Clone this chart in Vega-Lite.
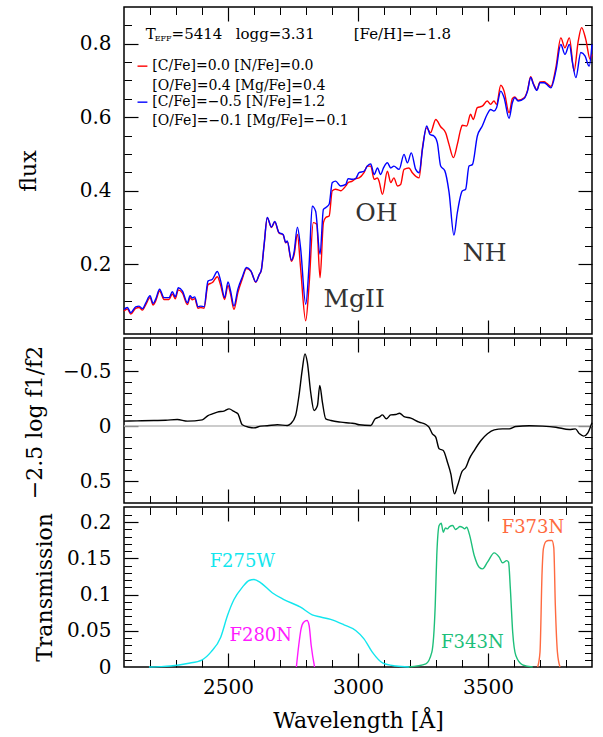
{
"$schema": "https://vega.github.io/schema/vega-lite/v6.json",
"background": "white",
"padding": {"left": 16, "top": 5, "right": 5, "bottom": 5},
"bounds": "flush",
"spacing": 4,
"resolve": {"scale": {"color": "independent"}},
"config": {
  "font": "DejaVu Serif",
  "view": {"stroke": "#000", "strokeWidth": 1.5},
  "axis": {"labelFont": "DejaVu Serif", "titleFont": "DejaVu Serif", "labelFontSize": 20, "titleFontSize": 22, "titleFontWeight": "normal", "labelColor": "#000", "titleColor": "#000", "domain": false, "grid": false, "labelFlush": false, "labelOverlap": false},
  "text": {"font": "DejaVu Serif"}
},
"datasets": {
  "flux": [
{"w":2100,"f":0.073,"m":"A"},{"w":2113,"f":0.078,"m":"A"},{"w":2126,"f":0.064,"m":"A"},{"w":2145,"f":0.080,"m":"A"},{"w":2158,"f":0.082,"m":"A"},{"w":2171,"f":0.075,"m":"A"},{"w":2184,"f":0.090,"m":"A"},{"w":2200,"f":0.109,"m":"A"},{"w":2212,"f":0.089,"m":"A"},{"w":2222,"f":0.100,"m":"A"},{"w":2237,"f":0.127,"m":"A"},{"w":2254,"f":0.104,"m":"A"},{"w":2273,"f":0.104,"m":"A"},{"w":2286,"f":0.119,"m":"A"},{"w":2297,"f":0.106,"m":"A"},{"w":2309,"f":0.130,"m":"A"},{"w":2325,"f":0.121,"m":"A"},{"w":2344,"f":0.090,"m":"A"},{"w":2354,"f":0.109,"m":"A"},{"w":2363,"f":0.103,"m":"A"},{"w":2372,"f":0.106,"m":"A"},{"w":2385,"f":0.080,"m":"A"},{"w":2395,"f":0.082,"m":"A"},{"w":2408,"f":0.080,"m":"A"},{"w":2423,"f":0.144,"m":"A"},{"w":2440,"f":0.150,"m":"A"},{"w":2459,"f":0.166,"m":"A"},{"w":2472,"f":0.142,"m":"A"},{"w":2487,"f":0.104,"m":"A"},{"w":2500,"f":0.142,"m":"A"},{"w":2510,"f":0.118,"m":"A"},{"w":2523,"f":0.077,"m":"A"},{"w":2538,"f":0.123,"m":"A"},{"w":2555,"f":0.160,"m":"A"},{"w":2571,"f":0.188,"m":"A"},{"w":2588,"f":0.181,"m":"A"},{"w":2607,"f":0.151,"m":"A"},{"w":2620,"f":0.171,"m":"A"},{"w":2628,"f":0.183,"m":"A"},{"w":2639,"f":0.253,"m":"A"},{"w":2651,"f":0.326,"m":"A"},{"w":2667,"f":0.300,"m":"A"},{"w":2680,"f":0.315,"m":"A"},{"w":2696,"f":0.285,"m":"A"},{"w":2712,"f":0.280,"m":"A"},{"w":2722,"f":0.258,"m":"A"},{"w":2728,"f":0.261,"m":"A"},{"w":2744,"f":0.208,"m":"A"},{"w":2754,"f":0.225,"m":"A"},{"w":2767,"f":0.281,"m":"A"},{"w":2779,"f":0.191,"m":"A"},{"w":2799,"f":0.046,"m":"A"},{"w":2812,"f":0.145,"m":"A"},{"w":2828,"f":0.313,"m":"A"},{"w":2841,"f":0.309,"m":"A"},{"w":2854,"f":0.163,"m":"A"},{"w":2867,"f":0.313,"m":"A"},{"w":2876,"f":0.327,"m":"A"},{"w":2889,"f":0.331,"m":"A"},{"w":2901,"f":0.400,"m":"A"},{"w":2914,"f":0.404,"m":"A"},{"w":2933,"f":0.400,"m":"A"},{"w":2953,"f":0.413,"m":"A"},{"w":2962,"f":0.422,"m":"A"},{"w":2978,"f":0.426,"m":"A"},{"w":2991,"f":0.433,"m":"A"},{"w":3004,"f":0.435,"m":"A"},{"w":3023,"f":0.449,"m":"A"},{"w":3036,"f":0.467,"m":"A"},{"w":3049,"f":0.467,"m":"A"},{"w":3062,"f":0.431,"m":"A"},{"w":3075,"f":0.435,"m":"A"},{"w":3081,"f":0.426,"m":"A"},{"w":3094,"f":0.390,"m":"A"},{"w":3113,"f":0.453,"m":"A"},{"w":3126,"f":0.422,"m":"A"},{"w":3138,"f":0.435,"m":"A"},{"w":3152,"f":0.413,"m":"A"},{"w":3164,"f":0.417,"m":"A"},{"w":3177,"f":0.458,"m":"A"},{"w":3196,"f":0.462,"m":"A"},{"w":3209,"f":0.449,"m":"A"},{"w":3235,"f":0.435,"m":"A"},{"w":3248,"f":0.517,"m":"A"},{"w":3264,"f":0.571,"m":"A"},{"w":3279,"f":0.558,"m":"A"},{"w":3299,"f":0.594,"m":"A"},{"w":3318,"f":0.574,"m":"A"},{"w":3337,"f":0.558,"m":"A"},{"w":3350,"f":0.526,"m":"A"},{"w":3367,"f":0.490,"m":"A"},{"w":3382,"f":0.526,"m":"A"},{"w":3395,"f":0.567,"m":"A"},{"w":3401,"f":0.578,"m":"A"},{"w":3418,"f":0.576,"m":"A"},{"w":3433,"f":0.608,"m":"A"},{"w":3443,"f":0.594,"m":"A"},{"w":3459,"f":0.626,"m":"A"},{"w":3478,"f":0.630,"m":"A"},{"w":3497,"f":0.644,"m":"A"},{"w":3510,"f":0.635,"m":"A"},{"w":3523,"f":0.644,"m":"A"},{"w":3533,"f":0.635,"m":"A"},{"w":3549,"f":0.687,"m":"A"},{"w":3562,"f":0.671,"m":"A"},{"w":3581,"f":0.612,"m":"A"},{"w":3594,"f":0.651,"m":"A"},{"w":3603,"f":0.655,"m":"A"},{"w":3616,"f":0.646,"m":"A"},{"w":3639,"f":0.653,"m":"A"},{"w":3652,"f":0.673,"m":"A"},{"w":3664,"f":0.710,"m":"A"},{"w":3675,"f":0.691,"m":"A"},{"w":3688,"f":0.675,"m":"A"},{"w":3700,"f":0.696,"m":"A"},{"w":3716,"f":0.697,"m":"A"},{"w":3726,"f":0.692,"m":"A"},{"w":3742,"f":0.684,"m":"A"},{"w":3761,"f":0.735,"m":"A"},{"w":3780,"f":0.816,"m":"A"},{"w":3796,"f":0.789,"m":"A"},{"w":3813,"f":0.816,"m":"A"},{"w":3831,"f":0.726,"m":"A"},{"w":3847,"f":0.807,"m":"A"},{"w":3860,"f":0.844,"m":"A"},{"w":3876,"f":0.812,"m":"A"},{"w":3893,"f":0.757,"m":"A"},{"w":3900,"f":0.771,"m":"A"},
{"w":2100,"f":0.077,"m":"B"},{"w":2113,"f":0.082,"m":"B"},{"w":2126,"f":0.068,"m":"B"},{"w":2145,"f":0.084,"m":"B"},{"w":2158,"f":0.086,"m":"B"},{"w":2171,"f":0.079,"m":"B"},{"w":2184,"f":0.095,"m":"B"},{"w":2200,"f":0.114,"m":"B"},{"w":2212,"f":0.093,"m":"B"},{"w":2222,"f":0.105,"m":"B"},{"w":2237,"f":0.132,"m":"B"},{"w":2254,"f":0.109,"m":"B"},{"w":2273,"f":0.109,"m":"B"},{"w":2286,"f":0.125,"m":"B"},{"w":2297,"f":0.111,"m":"B"},{"w":2309,"f":0.136,"m":"B"},{"w":2325,"f":0.127,"m":"B"},{"w":2344,"f":0.095,"m":"B"},{"w":2354,"f":0.114,"m":"B"},{"w":2363,"f":0.108,"m":"B"},{"w":2372,"f":0.111,"m":"B"},{"w":2385,"f":0.084,"m":"B"},{"w":2395,"f":0.086,"m":"B"},{"w":2408,"f":0.084,"m":"B"},{"w":2423,"f":0.154,"m":"B"},{"w":2440,"f":0.159,"m":"B"},{"w":2459,"f":0.180,"m":"B"},{"w":2472,"f":0.154,"m":"B"},{"w":2487,"f":0.109,"m":"B"},{"w":2500,"f":0.152,"m":"B"},{"w":2510,"f":0.127,"m":"B"},{"w":2523,"f":0.086,"m":"B"},{"w":2538,"f":0.132,"m":"B"},{"w":2555,"f":0.165,"m":"B"},{"w":2571,"f":0.191,"m":"B"},{"w":2588,"f":0.182,"m":"B"},{"w":2607,"f":0.152,"m":"B"},{"w":2620,"f":0.172,"m":"B"},{"w":2628,"f":0.184,"m":"B"},{"w":2639,"f":0.254,"m":"B"},{"w":2651,"f":0.327,"m":"B"},{"w":2667,"f":0.301,"m":"B"},{"w":2680,"f":0.316,"m":"B"},{"w":2696,"f":0.286,"m":"B"},{"w":2712,"f":0.281,"m":"B"},{"w":2722,"f":0.259,"m":"B"},{"w":2728,"f":0.263,"m":"B"},{"w":2744,"f":0.211,"m":"B"},{"w":2754,"f":0.232,"m":"B"},{"w":2767,"f":0.301,"m":"B"},{"w":2779,"f":0.245,"m":"B"},{"w":2799,"f":0.091,"m":"B"},{"w":2812,"f":0.200,"m":"B"},{"w":2824,"f":0.358,"m":"B"},{"w":2837,"f":0.344,"m":"B"},{"w":2854,"f":0.227,"m":"B"},{"w":2867,"f":0.349,"m":"B"},{"w":2876,"f":0.354,"m":"B"},{"w":2889,"f":0.363,"m":"B"},{"w":2901,"f":0.422,"m":"B"},{"w":2914,"f":0.426,"m":"B"},{"w":2933,"f":0.413,"m":"B"},{"w":2953,"f":0.417,"m":"B"},{"w":2962,"f":0.433,"m":"B"},{"w":2978,"f":0.431,"m":"B"},{"w":2991,"f":0.433,"m":"B"},{"w":3004,"f":0.449,"m":"B"},{"w":3023,"f":0.453,"m":"B"},{"w":3036,"f":0.467,"m":"B"},{"w":3049,"f":0.473,"m":"B"},{"w":3062,"f":0.444,"m":"B"},{"w":3075,"f":0.462,"m":"B"},{"w":3087,"f":0.444,"m":"B"},{"w":3098,"f":0.462,"m":"B"},{"w":3113,"f":0.476,"m":"B"},{"w":3126,"f":0.462,"m":"B"},{"w":3138,"f":0.467,"m":"B"},{"w":3158,"f":0.458,"m":"B"},{"w":3177,"f":0.499,"m":"B"},{"w":3190,"f":0.476,"m":"B"},{"w":3205,"f":0.503,"m":"B"},{"w":3222,"f":0.458,"m":"B"},{"w":3235,"f":0.449,"m":"B"},{"w":3248,"f":0.513,"m":"B"},{"w":3264,"f":0.576,"m":"B"},{"w":3277,"f":0.553,"m":"B"},{"w":3292,"f":0.549,"m":"B"},{"w":3305,"f":0.531,"m":"B"},{"w":3318,"f":0.467,"m":"B"},{"w":3334,"f":0.454,"m":"B"},{"w":3350,"f":0.397,"m":"B"},{"w":3369,"f":0.279,"m":"B"},{"w":3382,"f":0.340,"m":"B"},{"w":3401,"f":0.399,"m":"B"},{"w":3414,"f":0.404,"m":"B"},{"w":3427,"f":0.467,"m":"B"},{"w":3440,"f":0.471,"m":"B"},{"w":3459,"f":0.549,"m":"B"},{"w":3478,"f":0.576,"m":"B"},{"w":3497,"f":0.608,"m":"B"},{"w":3510,"f":0.621,"m":"B"},{"w":3523,"f":0.617,"m":"B"},{"w":3533,"f":0.626,"m":"B"},{"w":3549,"f":0.671,"m":"B"},{"w":3562,"f":0.653,"m":"B"},{"w":3581,"f":0.597,"m":"B"},{"w":3594,"f":0.640,"m":"B"},{"w":3603,"f":0.653,"m":"B"},{"w":3616,"f":0.644,"m":"B"},{"w":3639,"f":0.651,"m":"B"},{"w":3652,"f":0.671,"m":"B"},{"w":3664,"f":0.708,"m":"B"},{"w":3675,"f":0.689,"m":"B"},{"w":3688,"f":0.673,"m":"B"},{"w":3700,"f":0.694,"m":"B"},{"w":3716,"f":0.694,"m":"B"},{"w":3726,"f":0.689,"m":"B"},{"w":3742,"f":0.680,"m":"B"},{"w":3761,"f":0.726,"m":"B"},{"w":3780,"f":0.798,"m":"B"},{"w":3796,"f":0.771,"m":"B"},{"w":3813,"f":0.798,"m":"B"},{"w":3825,"f":0.748,"m":"B"},{"w":3838,"f":0.708,"m":"B"},{"w":3857,"f":0.776,"m":"B"},{"w":3873,"f":0.767,"m":"B"},{"w":3889,"f":0.739,"m":"B"},{"w":3900,"f":0.798,"m":"B"}
  ],
  "notes": [{"w":3071,"f":0.339,"text":"OH"},{"w":2985,"f":0.105,"text":"MgII"},{"w":3487,"f":0.230,"text":"NH"}],
  "head": [{"w":2183.5,"f":0.826,"text":"T"},{"w":2283,"f":0.826,"text":"=5414"},{"w":2529.6,"f":0.826,"text":"logg=3.31"},{"w":2983.5,"f":0.826,"text":"[Fe/H]=−1.8"}],
  "headsub": [{"w":2218,"f":0.813,"text":"EFF"}],
  "legtext": [{"w":2209,"f":0.739,"text":"[C/Fe]=0.0 [N/Fe]=0.0"},{"w":2209,"f":0.685,"text":"[O/Fe]=0.4 [Mg/Fe]=0.4"},{"w":2209,"f":0.641,"text":"[C/Fe]=−0.5 [N/Fe]=1.2"},{"w":2209,"f":0.590,"text":"[O/Fe]=−0.1 [Mg/Fe]=−0.1"}],
  "legline": [{"w1":2152,"w2":2190,"f":0.739,"m":"A"},{"w1":2152,"w2":2190,"f":0.641,"m":"B"}],
  "zero": [{"v":0}],
  "ratio": [
{"w":2100,"v":-0.044},{"w":2150,"v":-0.047},{"w":2215,"v":-0.050},{"w":2260,"v":-0.052},{"w":2305,"v":-0.059},{"w":2344,"v":-0.044},{"w":2401,"v":-0.056},{"w":2423,"v":-0.095},{"w":2440,"v":-0.11},{"w":2459,"v":-0.126},{"w":2487,"v":-0.138},{"w":2504,"v":-0.156},{"w":2523,"v":-0.132},{"w":2538,"v":-0.111},{"w":2555,"v":-0.011},{"w":2581,"v":0.011},{"w":2600,"v":0.017},{"w":2626,"v":0.001},{"w":2651,"v":-0.002},{"w":2690,"v":-0.011},{"w":2728,"v":-0.005},{"w":2741,"v":-0.020},{"w":2760,"v":-0.095},{"w":2773,"v":-0.277},{"w":2786,"v":-0.52},{"w":2796,"v":-0.656},{"w":2805,"v":-0.58},{"w":2818,"v":-0.307},{"w":2831,"v":-0.141},{"w":2844,"v":-0.186},{"w":2853,"v":-0.368},{"w":2863,"v":-0.217},{"w":2876,"v":-0.065},{"w":2896,"v":-0.05},{"w":2934,"v":-0.035},{"w":2972,"v":-0.026},{"w":2991,"v":-0.020},{"w":3004,"v":-0.011},{"w":3049,"v":-0.005},{"w":3066,"v":-0.066},{"w":3081,"v":-0.08},{"w":3094,"v":-0.101},{"w":3109,"v":-0.066},{"w":3126,"v":-0.101},{"w":3145,"v":-0.104},{"w":3160,"v":-0.116},{"w":3177,"v":-0.086},{"w":3203,"v":-0.071},{"w":3235,"v":-0.035},{"w":3261,"v":-0.014},{"w":3273,"v":0.011},{"w":3286,"v":0.071},{"w":3299,"v":0.101},{"w":3312,"v":0.207},{"w":3328,"v":0.223},{"w":3344,"v":0.329},{"w":3357,"v":0.435},{"w":3371,"v":0.617},{"w":3383,"v":0.541},{"w":3400,"v":0.414},{"w":3415,"v":0.375},{"w":3428,"v":0.299},{"w":3447,"v":0.223},{"w":3473,"v":0.132},{"w":3498,"v":0.071},{"w":3524,"v":0.035},{"w":3556,"v":0.026},{"w":3582,"v":0.026},{"w":3607,"v":0.005},{"w":3659,"v":-0.002},{"w":3710,"v":0.001},{"w":3761,"v":0.011},{"w":3813,"v":0.032},{"w":3836,"v":0.026},{"w":3852,"v":0.071},{"w":3868,"v":0.092},{"w":3884,"v":0.062},{"w":3897,"v":-0.011},{"w":3900,"v":-0.029}
  ],
  "filters": [
{"w":2196,"t":0,"filter":"F275W"},{"w":2240,"t":0.0005,"filter":"F275W"},{"w":2280,"t":0.0014,"filter":"F275W"},{"w":2344,"t":0.0049,"filter":"F275W"},{"w":2401,"t":0.0100,"filter":"F275W"},{"w":2434,"t":0.0205,"filter":"F275W"},{"w":2472,"t":0.0412,"filter":"F275W"},{"w":2498,"t":0.0711,"filter":"F275W"},{"w":2523,"t":0.0932,"filter":"F275W"},{"w":2555,"t":0.110,"filter":"F275W"},{"w":2581,"t":0.1195,"filter":"F275W"},{"w":2600,"t":0.1209,"filter":"F275W"},{"w":2626,"t":0.1163,"filter":"F275W"},{"w":2670,"t":0.1025,"filter":"F275W"},{"w":2715,"t":0.0932,"filter":"F275W"},{"w":2779,"t":0.0826,"filter":"F275W"},{"w":2824,"t":0.0721,"filter":"F275W"},{"w":2856,"t":0.069,"filter":"F275W"},{"w":2895,"t":0.0658,"filter":"F275W"},{"w":2946,"t":0.0583,"filter":"F275W"},{"w":2991,"t":0.0504,"filter":"F275W"},{"w":3023,"t":0.0389,"filter":"F275W"},{"w":3055,"t":0.0205,"filter":"F275W"},{"w":3094,"t":0.0058,"filter":"F275W"},{"w":3145,"t":0.0014,"filter":"F275W"},{"w":3196,"t":0,"filter":"F275W"},
{"w":2763,"t":0,"filter":"F280N"},{"w":2772,"t":0.0297,"filter":"F280N"},{"w":2781,"t":0.0527,"filter":"F280N"},{"w":2791,"t":0.0619,"filter":"F280N"},{"w":2804,"t":0.0642,"filter":"F280N"},{"w":2812,"t":0.0573,"filter":"F280N"},{"w":2820,"t":0.0297,"filter":"F280N"},{"w":2833,"t":0,"filter":"F280N"},
{"w":3196,"t":0,"filter":"F343N"},{"w":3261,"t":0.0044,"filter":"F343N"},{"w":3284,"t":0.0205,"filter":"F343N"},{"w":3297,"t":0.0849,"filter":"F343N"},{"w":3303,"t":0.154,"filter":"F343N"},{"w":3312,"t":0.1954,"filter":"F343N"},{"w":3320,"t":0.1985,"filter":"F343N"},{"w":3328,"t":0.1862,"filter":"F343N"},{"w":3336,"t":0.192,"filter":"F343N"},{"w":3344,"t":0.1908,"filter":"F343N"},{"w":3352,"t":0.194,"filter":"F343N"},{"w":3364,"t":0.1954,"filter":"F343N"},{"w":3375,"t":0.19,"filter":"F343N"},{"w":3383,"t":0.1917,"filter":"F343N"},{"w":3392,"t":0.194,"filter":"F343N"},{"w":3402,"t":0.193,"filter":"F343N"},{"w":3410,"t":0.191,"filter":"F343N"},{"w":3418,"t":0.193,"filter":"F343N"},{"w":3428,"t":0.1839,"filter":"F343N"},{"w":3447,"t":0.154,"filter":"F343N"},{"w":3466,"t":0.1379,"filter":"F343N"},{"w":3479,"t":0.1356,"filter":"F343N"},{"w":3498,"t":0.1448,"filter":"F343N"},{"w":3524,"t":0.1577,"filter":"F343N"},{"w":3543,"t":0.1517,"filter":"F343N"},{"w":3556,"t":0.1439,"filter":"F343N"},{"w":3572,"t":0.147,"filter":"F343N"},{"w":3579,"t":0.1448,"filter":"F343N"},{"w":3586,"t":0.108,"filter":"F343N"},{"w":3595,"t":0.048,"filter":"F343N"},{"w":3607,"t":0.0159,"filter":"F343N"},{"w":3633,"t":0.003,"filter":"F343N"},{"w":3672,"t":0,"filter":"F343N"},
{"w":3691,"t":0,"filter":"F373N"},{"w":3700,"t":0.0205,"filter":"F373N"},{"w":3708,"t":0.131,"filter":"F373N"},{"w":3713,"t":0.163,"filter":"F373N"},{"w":3723,"t":0.1733,"filter":"F373N"},{"w":3733,"t":0.1747,"filter":"F373N"},{"w":3746,"t":0.1747,"filter":"F373N"},{"w":3753,"t":0.165,"filter":"F373N"},{"w":3759,"t":0.0849,"filter":"F373N"},{"w":3767,"t":0.0205,"filter":"F373N"},{"w":3777,"t":0,"filter":"F373N"}
  ],
  "flab": [{"w":2555,"t":0.145,"filter":"F275W"},{"w":2626,"t":0.0425,"filter":"F280N"},{"w":3440,"t":0.0334,"filter":"F343N"},{"w":3673,"t":0.1917,"filter":"F373N"}]
},
"vconcat": [
{
  "width": 468, "height": 327,
  "resolve": {"axis": {"x": "independent", "y": "independent"}},
  "layer": [
    {"data": {"name": "flux"}, "mark": {"type": "line", "strokeWidth": 1.4, "interpolate": "monotone"},
     "encoding": {
       "x": {"field": "w", "type": "quantitative", "scale": {"domain": [2100, 3900], "nice": false, "zero": false}, "axis": null},
       "y": {"field": "f", "type": "quantitative", "scale": {"domain": [0.01, 0.9], "nice": false, "zero": false}, "axis": {"orient": "left", "values": [0.2, 0.4, 0.6, 0.8], "ticks": false, "labelPadding": 13, "format": "~g", "title": "flux", "titleX": -96, "titleY": 163.5, "titleAngle": -90, "titleAlign": "center", "titleBaseline": "middle"}},
       "color": {"field": "m", "type": "nominal", "scale": {"domain": ["A", "B"], "range": ["#ff0000", "#0000ff"]}, "legend": null}
     }},
    {"data": {"name": "flux"}, "mark": {"type": "point", "opacity": 0},
     "encoding": {
       "x": {"field": "w", "type": "quantitative", "scale": {"domain": [2100, 3900], "nice": false, "zero": false}, "axis": {"orient": "bottom", "values": [2500, 3000, 3500], "labels": false, "tickColor": "#000", "tickWidth": 1.2, "tickSize": 14, "offset": -14, "title": null}},
       "y": {"field": "f", "type": "quantitative", "scale": {"domain": [0.01, 0.9], "nice": false, "zero": false}, "axis": {"orient": "left", "values": [0.2, 0.4, 0.6, 0.8], "labels": false, "tickColor": "#000", "tickWidth": 1.2, "tickSize": 14, "offset": -14, "title": null}}
     }},
    {"data": {"name": "flux"}, "mark": {"type": "point", "opacity": 0},
     "encoding": {
       "x": {"field": "w", "type": "quantitative", "scale": {"domain": [2100, 3900], "nice": false, "zero": false}, "axis": {"orient": "top", "values": [2500, 3000, 3500], "labels": false, "tickColor": "#000", "tickWidth": 1.2, "tickSize": 14, "offset": -14, "title": null}},
       "y": {"field": "f", "type": "quantitative", "scale": {"domain": [0.01, 0.9], "nice": false, "zero": false}, "axis": {"orient": "right", "values": [0.2, 0.4, 0.6, 0.8], "labels": false, "tickColor": "#000", "tickWidth": 1.2, "tickSize": 14, "offset": -14, "title": null}}
     }},
    {"data": {"name": "flux"}, "mark": {"type": "point", "opacity": 0},
     "encoding": {
       "x": {"field": "w", "type": "quantitative", "scale": {"domain": [2100, 3900], "nice": false, "zero": false}, "axis": {"orient": "bottom", "values": [2200, 2300, 2400, 2600, 2700, 2800, 2900, 3100, 3200, 3300, 3400, 3600, 3700, 3800], "labels": false, "tickColor": "#000", "tickWidth": 1, "tickSize": 7.5, "offset": -7.5, "title": null}},
       "y": {"field": "f", "type": "quantitative", "scale": {"domain": [0.01, 0.9], "nice": false, "zero": false}, "axis": {"orient": "left", "values": [0.05, 0.1, 0.15, 0.25, 0.3, 0.35, 0.45, 0.5, 0.55, 0.65, 0.7, 0.75, 0.85], "labels": false, "tickColor": "#000", "tickWidth": 1, "tickSize": 7.5, "offset": -7.5, "title": null}}
     }},
    {"data": {"name": "flux"}, "mark": {"type": "point", "opacity": 0},
     "encoding": {
       "x": {"field": "w", "type": "quantitative", "scale": {"domain": [2100, 3900], "nice": false, "zero": false}, "axis": {"orient": "top", "values": [2200, 2300, 2400, 2600, 2700, 2800, 2900, 3100, 3200, 3300, 3400, 3600, 3700, 3800], "labels": false, "tickColor": "#000", "tickWidth": 1, "tickSize": 7.5, "offset": -7.5, "title": null}},
       "y": {"field": "f", "type": "quantitative", "scale": {"domain": [0.01, 0.9], "nice": false, "zero": false}, "axis": {"orient": "right", "values": [0.05, 0.1, 0.15, 0.25, 0.3, 0.35, 0.45, 0.5, 0.55, 0.65, 0.7, 0.75, 0.85], "labels": false, "tickColor": "#000", "tickWidth": 1, "tickSize": 7.5, "offset": -7.5, "title": null}}
     }},
    {"data": {"name": "legline"}, "mark": {"type": "rule", "strokeWidth": 1.4},
     "encoding": {
       "x": {"field": "w1", "type": "quantitative", "scale": {"domain": [2100, 3900], "nice": false, "zero": false}, "axis": null},
       "x2": {"field": "w2"},
       "y": {"field": "f", "type": "quantitative", "scale": {"domain": [0.01, 0.9], "nice": false, "zero": false}, "axis": null},
       "color": {"field": "m", "type": "nominal", "scale": {"domain": ["A", "B"], "range": ["#ff0000", "#0000ff"]}, "legend": null}
     }},
    {"data": {"name": "legtext"}, "mark": {"type": "text", "align": "left", "baseline": "middle", "fontSize": 14, "color": "#000"},
     "encoding": {
       "x": {"field": "w", "type": "quantitative", "scale": {"domain": [2100, 3900], "nice": false, "zero": false}, "axis": null},
       "y": {"field": "f", "type": "quantitative", "scale": {"domain": [0.01, 0.9], "nice": false, "zero": false}, "axis": null},
       "text": {"field": "text"}
     }},
    {"data": {"name": "head"}, "mark": {"type": "text", "align": "left", "baseline": "middle", "fontSize": 15, "color": "#000"},
     "encoding": {
       "x": {"field": "w", "type": "quantitative", "scale": {"domain": [2100, 3900], "nice": false, "zero": false}, "axis": null},
       "y": {"field": "f", "type": "quantitative", "scale": {"domain": [0.01, 0.9], "nice": false, "zero": false}, "axis": null},
       "text": {"field": "text"}
     }},
    {"data": {"name": "headsub"}, "mark": {"type": "text", "align": "left", "baseline": "middle", "fontSize": 8, "color": "#000"},
     "encoding": {
       "x": {"field": "w", "type": "quantitative", "scale": {"domain": [2100, 3900], "nice": false, "zero": false}, "axis": null},
       "y": {"field": "f", "type": "quantitative", "scale": {"domain": [0.01, 0.9], "nice": false, "zero": false}, "axis": null},
       "text": {"field": "text"}
     }},
    {"data": {"name": "notes"}, "mark": {"type": "text", "align": "center", "baseline": "middle", "fontSize": 25, "color": "#333"},
     "encoding": {
       "x": {"field": "w", "type": "quantitative", "scale": {"domain": [2100, 3900], "nice": false, "zero": false}, "axis": null},
       "y": {"field": "f", "type": "quantitative", "scale": {"domain": [0.01, 0.9], "nice": false, "zero": false}, "axis": null},
       "text": {"field": "text"}
     }}
  ]
},
{
  "width": 468, "height": 165,
  "resolve": {"axis": {"x": "independent", "y": "independent"}},
  "layer": [
    {"data": {"name": "zero"}, "mark": {"type": "rule", "color": "#bbbbbb", "strokeWidth": 1.5},
     "encoding": {
       "y": {"field": "v", "type": "quantitative", "scale": {"domain": [-0.8, 0.7], "nice": false, "zero": false, "reverse": true}, "axis": null}
     }},
    {"data": {"name": "ratio"}, "mark": {"type": "line", "color": "#000", "strokeWidth": 1.4, "interpolate": "monotone"},
     "encoding": {
       "x": {"field": "w", "type": "quantitative", "scale": {"domain": [2100, 3900], "nice": false, "zero": false}, "axis": null},
       "y": {"field": "v", "type": "quantitative", "scale": {"domain": [-0.8, 0.7], "nice": false, "zero": false, "reverse": true}, "axis": {"orient": "left", "values": [-0.5, 0, 0.5], "ticks": false, "labelPadding": 13, "format": "~g", "title": "−2.5 log f1/f2", "titleX": -90, "titleY": 84, "titleAngle": -90, "titleAlign": "center", "titleBaseline": "middle"}}
     }},
    {"data": {"name": "ratio"}, "mark": {"type": "point", "opacity": 0},
     "encoding": {
       "x": {"field": "w", "type": "quantitative", "scale": {"domain": [2100, 3900], "nice": false, "zero": false}, "axis": {"orient": "bottom", "values": [2500, 3000, 3500], "labels": false, "tickColor": "#000", "tickWidth": 1.2, "tickSize": 14, "offset": -14, "title": null}},
       "y": {"field": "v", "type": "quantitative", "scale": {"domain": [-0.8, 0.7], "nice": false, "zero": false, "reverse": true}, "axis": {"orient": "left", "values": [-0.5, 0, 0.5], "labels": false, "tickColor": "#000", "tickWidth": 1.2, "tickSize": 14, "offset": -14, "title": null}}
     }},
    {"data": {"name": "ratio"}, "mark": {"type": "point", "opacity": 0},
     "encoding": {
       "x": {"field": "w", "type": "quantitative", "scale": {"domain": [2100, 3900], "nice": false, "zero": false}, "axis": {"orient": "top", "values": [2500, 3000, 3500], "labels": false, "tickColor": "#000", "tickWidth": 1.2, "tickSize": 14, "offset": -14, "title": null}},
       "y": {"field": "v", "type": "quantitative", "scale": {"domain": [-0.8, 0.7], "nice": false, "zero": false, "reverse": true}, "axis": {"orient": "right", "values": [-0.5, 0, 0.5], "labels": false, "tickColor": "#000", "tickWidth": 1.2, "tickSize": 14, "offset": -14, "title": null}}
     }},
    {"data": {"name": "ratio"}, "mark": {"type": "point", "opacity": 0},
     "encoding": {
       "x": {"field": "w", "type": "quantitative", "scale": {"domain": [2100, 3900], "nice": false, "zero": false}, "axis": {"orient": "bottom", "values": [2200, 2300, 2400, 2600, 2700, 2800, 2900, 3100, 3200, 3300, 3400, 3600, 3700, 3800], "labels": false, "tickColor": "#000", "tickWidth": 1, "tickSize": 7.5, "offset": -7.5, "title": null}},
       "y": {"field": "v", "type": "quantitative", "scale": {"domain": [-0.8, 0.7], "nice": false, "zero": false, "reverse": true}, "axis": {"orient": "left", "values": [-0.7, -0.6, -0.4, -0.3, -0.2, -0.1, 0.1, 0.2, 0.3, 0.4, 0.6], "labels": false, "tickColor": "#000", "tickWidth": 1, "tickSize": 7.5, "offset": -7.5, "title": null}}
     }},
    {"data": {"name": "ratio"}, "mark": {"type": "point", "opacity": 0},
     "encoding": {
       "x": {"field": "w", "type": "quantitative", "scale": {"domain": [2100, 3900], "nice": false, "zero": false}, "axis": {"orient": "top", "values": [2200, 2300, 2400, 2600, 2700, 2800, 2900, 3100, 3200, 3300, 3400, 3600, 3700, 3800], "labels": false, "tickColor": "#000", "tickWidth": 1, "tickSize": 7.5, "offset": -7.5, "title": null}},
       "y": {"field": "v", "type": "quantitative", "scale": {"domain": [-0.8, 0.7], "nice": false, "zero": false, "reverse": true}, "axis": {"orient": "right", "values": [-0.7, -0.6, -0.4, -0.3, -0.2, -0.1, 0.1, 0.2, 0.3, 0.4, 0.6], "labels": false, "tickColor": "#000", "tickWidth": 1, "tickSize": 7.5, "offset": -7.5, "title": null}}
     }}
  ]
},
{
  "width": 468, "height": 160,
  "resolve": {"axis": {"x": "independent", "y": "independent"}},
  "layer": [
    {"data": {"name": "filters"}, "mark": {"type": "line", "strokeWidth": 1.4, "interpolate": "monotone"},
     "encoding": {
       "x": {"field": "w", "type": "quantitative", "scale": {"domain": [2100, 3900], "nice": false, "zero": false}, "axis": {"orient": "bottom", "values": [2500, 3000, 3500], "ticks": false, "labelPadding": 10, "format": "d", "title": "Wavelength [Å]", "titleX": 234, "titleY": 53.5, "titleAlign": "center", "titleBaseline": "middle"}},
       "y": {"field": "t", "type": "quantitative", "scale": {"domain": [0, 0.221], "nice": false, "zero": false}, "axis": {"orient": "left", "values": [0, 0.05, 0.1, 0.15, 0.2], "ticks": false, "labelPadding": 13, "format": "~g", "title": "Transmission", "titleX": -80, "titleY": 80, "titleAngle": -90, "titleAlign": "center", "titleBaseline": "middle"}},
       "color": {"field": "filter", "type": "nominal", "scale": {"domain": ["F275W", "F280N", "F343N", "F373N"], "range": ["#12e6ee", "#ff1aff", "#1dbf7a", "#ff6a40"]}, "legend": null}
     }},
    {"data": {"name": "filters"}, "mark": {"type": "point", "opacity": 0},
     "encoding": {
       "x": {"field": "w", "type": "quantitative", "scale": {"domain": [2100, 3900], "nice": false, "zero": false}, "axis": {"orient": "bottom", "values": [2500, 3000, 3500], "labels": false, "tickColor": "#000", "tickWidth": 1.2, "tickSize": 14, "offset": -14, "title": null}},
       "y": {"field": "t", "type": "quantitative", "scale": {"domain": [0, 0.221], "nice": false, "zero": false}, "axis": {"orient": "left", "values": [0.05, 0.1, 0.15, 0.2], "labels": false, "tickColor": "#000", "tickWidth": 1.2, "tickSize": 14, "offset": -14, "title": null}}
     }},
    {"data": {"name": "filters"}, "mark": {"type": "point", "opacity": 0},
     "encoding": {
       "x": {"field": "w", "type": "quantitative", "scale": {"domain": [2100, 3900], "nice": false, "zero": false}, "axis": {"orient": "top", "values": [2500, 3000, 3500], "labels": false, "tickColor": "#000", "tickWidth": 1.2, "tickSize": 14, "offset": -14, "title": null}},
       "y": {"field": "t", "type": "quantitative", "scale": {"domain": [0, 0.221], "nice": false, "zero": false}, "axis": {"orient": "right", "values": [0.05, 0.1, 0.15, 0.2], "labels": false, "tickColor": "#000", "tickWidth": 1.2, "tickSize": 14, "offset": -14, "title": null}}
     }},
    {"data": {"name": "filters"}, "mark": {"type": "point", "opacity": 0},
     "encoding": {
       "x": {"field": "w", "type": "quantitative", "scale": {"domain": [2100, 3900], "nice": false, "zero": false}, "axis": {"orient": "bottom", "values": [2200, 2300, 2400, 2600, 2700, 2800, 2900, 3100, 3200, 3300, 3400, 3600, 3700, 3800], "labels": false, "tickColor": "#000", "tickWidth": 1, "tickSize": 7.5, "offset": -7.5, "title": null}},
       "y": {"field": "t", "type": "quantitative", "scale": {"domain": [0, 0.221], "nice": false, "zero": false}, "axis": {"orient": "left", "values": [0.01, 0.02, 0.03, 0.04, 0.06, 0.07, 0.08, 0.09, 0.11, 0.12, 0.13, 0.14, 0.16, 0.17, 0.18, 0.19, 0.21], "labels": false, "tickColor": "#000", "tickWidth": 1, "tickSize": 7.5, "offset": -7.5, "title": null}}
     }},
    {"data": {"name": "filters"}, "mark": {"type": "point", "opacity": 0},
     "encoding": {
       "x": {"field": "w", "type": "quantitative", "scale": {"domain": [2100, 3900], "nice": false, "zero": false}, "axis": {"orient": "top", "values": [2200, 2300, 2400, 2600, 2700, 2800, 2900, 3100, 3200, 3300, 3400, 3600, 3700, 3800], "labels": false, "tickColor": "#000", "tickWidth": 1, "tickSize": 7.5, "offset": -7.5, "title": null}},
       "y": {"field": "t", "type": "quantitative", "scale": {"domain": [0, 0.221], "nice": false, "zero": false}, "axis": {"orient": "right", "values": [0.01, 0.02, 0.03, 0.04, 0.06, 0.07, 0.08, 0.09, 0.11, 0.12, 0.13, 0.14, 0.16, 0.17, 0.18, 0.19, 0.21], "labels": false, "tickColor": "#000", "tickWidth": 1, "tickSize": 7.5, "offset": -7.5, "title": null}}
     }},
    {"data": {"name": "flab"}, "mark": {"type": "text", "align": "center", "baseline": "middle", "fontSize": 18},
     "encoding": {
       "x": {"field": "w", "type": "quantitative", "scale": {"domain": [2100, 3900], "nice": false, "zero": false}, "axis": null},
       "y": {"field": "t", "type": "quantitative", "scale": {"domain": [0, 0.221], "nice": false, "zero": false}, "axis": null},
       "text": {"field": "filter"},
       "color": {"field": "filter", "type": "nominal", "scale": {"domain": ["F275W", "F280N", "F343N", "F373N"], "range": ["#12e6ee", "#ff1aff", "#1dbf7a", "#ff6a40"]}, "legend": null}
     }}
  ]
}
]
}
